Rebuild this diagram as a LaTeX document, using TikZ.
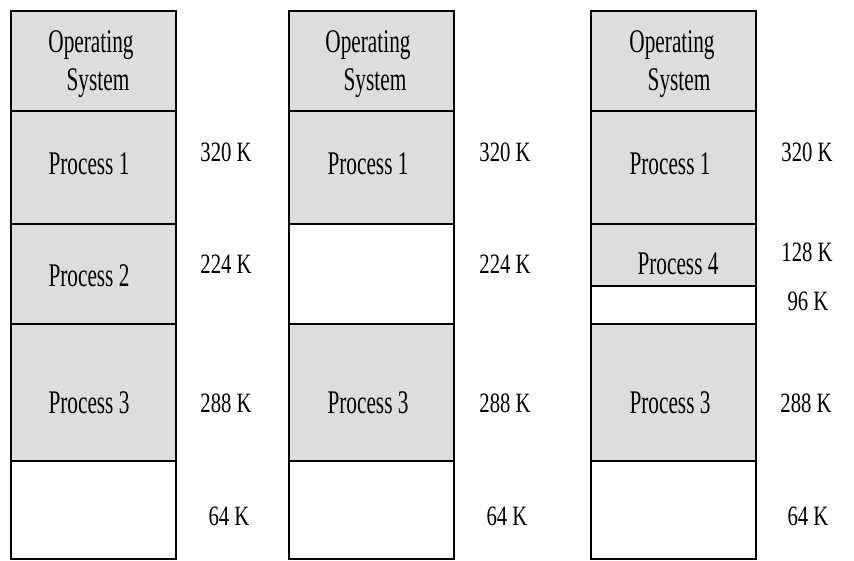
\documentclass[tikz,border=0pt]{standalone}
\usepackage{fontspec}
\setmainfont{Liberation Serif}
\newfontfamily\boxfont{Liberation Serif}[FakeStretch=0.645]
\newfontfamily\sizefont{Liberation Serif}[FakeStretch=0.74]
\definecolor{usedgray}{HTML}{DDDDDD}
\newcommand{\ostext}{Operating\\\hspace*{14pt}System}
\begin{document}
\begin{tikzpicture}[x=1pt,y=-1pt,
  seg/.style={draw=black, line width=2pt, anchor=north west, inner sep=0pt,
    outer sep=0pt, minimum width=165pt},
  used/.style={seg, fill=usedgray},
  free/.style={seg, fill=white},
  boxtext/.style={font=\boxfont\fontsize{33}{38}\selectfont, inner sep=0pt, align=center},
  sizetext/.style={font=\sizefont\fontsize{28}{34}\selectfont, anchor=base, inner sep=0pt}]
\useasboundingbox (0,0) rectangle (854,561);

% ---- memory map 1: three processes loaded
\node[used, minimum height=100pt] (os1) at (11,11) {};
\node[used, minimum height=113pt] (p11) at (11,111) {};
\node[used, minimum height=100pt] (p21) at (11,224) {};
\node[used, minimum height=137pt] (p31) at (11,324) {};
\node[free, minimum height=98pt]  (f41) at (11,461) {};
\node[boxtext] (os1t) at (91,64) {\ostext};
\node[boxtext, anchor=base] (p11t) at (89,175) {Process 1};
\node[boxtext, anchor=base] (p21t) at (89,287) {Process 2};
\node[boxtext, anchor=base] (p31t) at (89,413) {Process 3};
\node[sizetext] (s11) at (226,162) {320 K};
\node[sizetext] (s21) at (226,274) {224 K};
\node[sizetext] (s31) at (226,412) {288 K};
\node[sizetext] (s41) at (229,525) {64 K};

% ---- memory map 2: process 2 swapped out
\node[used, minimum height=100pt] (os2) at (289,11) {};
\node[used, minimum height=113pt] (p12) at (289,111) {};
\node[free, minimum height=100pt] (f22) at (289,224) {};
\node[used, minimum height=137pt] (p32) at (289,324) {};
\node[free, minimum height=98pt]  (f42) at (289,461) {};
\node[boxtext] (os2t) at (368,64) {\ostext};
\node[boxtext, anchor=base] (p12t) at (368,175) {Process 1};
\node[boxtext, anchor=base] (p32t) at (368,413) {Process 3};
\node[sizetext] (s12) at (505,162) {320 K};
\node[sizetext] (s22) at (505,274) {224 K};
\node[sizetext] (s32) at (505,412) {288 K};
\node[sizetext] (s42) at (507,525) {64 K};

% ---- memory map 3: process 4 placed in the freed hole
\node[used, minimum height=100pt] (os3) at (591,11) {};
\node[used, minimum height=113pt] (p13) at (591,111) {};
\node[used, minimum height=62pt]  (p43) at (591,224) {};
\node[free, minimum height=38pt]  (f23) at (591,286) {};
\node[used, minimum height=137pt] (p33) at (591,324) {};
\node[free, minimum height=98pt]  (f43) at (591,461) {};
\node[boxtext] (os3t) at (672,64) {\ostext};
\node[boxtext, anchor=base] (p13t) at (670,175) {Process 1};
\node[boxtext, anchor=base] (p43t) at (678,275) {Process 4};
\node[boxtext, anchor=base] (p33t) at (670,413) {Process 3};
\node[sizetext] (s13) at (807,162) {320 K};
\node[sizetext] (s43) at (807,262) {128 K};
\node[sizetext] (s23) at (808,311) {96 K};
\node[sizetext] (s33) at (806,412) {288 K};
\node[sizetext] (s53) at (808,525) {64 K};
\end{tikzpicture}
\end{document}
